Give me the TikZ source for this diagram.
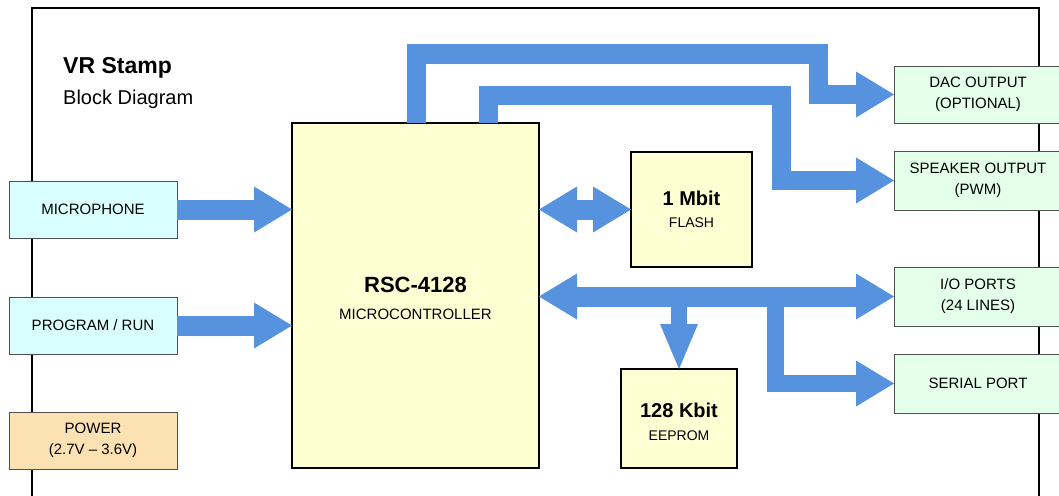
\documentclass[tikz,border=0pt]{standalone}
\usepackage{fontspec}
\setmainfont{Liberation Sans}
\usetikzlibrary{arrows.meta}
\definecolor{busblue}{RGB}{86,146,222}
\definecolor{chipfill}{RGB}{255,255,212}
\definecolor{infill}{RGB}{218,255,255}
\definecolor{outfill}{RGB}{228,255,234}
\definecolor{pwrfill}{RGB}{252,226,178}
\definecolor{boxline}{RGB}{80,80,80}
\tikzset{
  BigTri/.tip={Triangle[length=38pt,width=46pt,line width=0pt]},
  DownTri/.tip={Triangle[length=45pt,width=38pt,line width=0pt]},
  fat/.style={draw=busblue, line width=20pt, line cap=butt, line join=miter},
  chip/.style={draw=black, line width=1.6pt, fill=chipfill, inner sep=0pt, outer sep=0pt},
  sidebox/.style={draw=boxline, line width=0.9pt, inner sep=0pt, outer sep=0pt, align=center,
    minimum width=168pt, font=\fontsize{15}{21}\selectfont},
  inbox/.style={sidebox, fill=infill, minimum height=57pt},
  pwrbox/.style={sidebox, fill=pwrfill, minimum height=57pt},
  outbox/.style={sidebox, fill=outfill, minimum height=59pt},
  txt/.style={inner sep=0pt, anchor=base},
}
\begin{document}
\begin{tikzpicture}[x=1pt,y=-1pt]
\useasboundingbox (0,0) rectangle (1059,495);
\clip (0,0) rectangle (1059,495);
\fill[white] (0,0) rectangle (1059,495);
% outer frame
\draw[black, line width=1.8pt] (32,497) -- (32,8) -- (1039,8) -- (1039,497);

% title
\node[txt, anchor=base west, font=\fontsize{23}{28}\selectfont\bfseries] (title) at (63,74) {VR Stamp};
\node[txt, anchor=base west, font=\fontsize{20}{24}\selectfont] (subtitle) at (63,104) {Block Diagram};

% left boxes
\node[inbox] (mic) at (93,209.5) {MICROPHONE};
\node[inbox] (prog) at (93,325.5) {PROGRAM / RUN};
\node[pwrbox] (pwr) at (93,440.5) {POWER\\(2.7V – 3.6V)};

% chips
\node[chip, minimum width=247pt, minimum height=345pt] (mcu) at (415.5,295.5) {};
\node[chip, minimum width=121pt, minimum height=115pt] (flash) at (691.5,209.5) {};
\node[chip, minimum width=116pt, minimum height=99pt] (eeprom) at (679,418.5) {};
\node[txt, font=\fontsize{22}{26}\selectfont\bfseries] (mcut) at (415.5,292) {RSC-4128};
\node[txt, font=\fontsize{15}{18}\selectfont] (mcus) at (415.5,319) {MICROCONTROLLER};
\node[txt, font=\fontsize{20}{24}\selectfont\bfseries] (flasht) at (691.5,205) {1 Mbit};
\node[txt, font=\fontsize{14}{17}\selectfont] (flashs) at (691.5,227) {FLASH};
\node[txt, font=\fontsize{20}{24}\selectfont\bfseries] (eepromt) at (679,417) {128 Kbit};
\node[txt, font=\fontsize{14}{17}\selectfont] (eeproms) at (679,440) {EEPROM};

% right boxes
\node[outbox, minimum height=57pt] (dac) at (978,94.5) {DAC OUTPUT\\(OPTIONAL)};
\node[outbox] (spk) at (978,180.5) {SPEAKER OUTPUT\\(PWM)};
\node[outbox] (io) at (978,296.5) {I/O PORTS\\(24 LINES)};
\node[outbox] (ser) at (978,383.5) {SERIAL PORT};

% bend points
\coordinate (p1a) at (416,54);
\coordinate (p1b) at (818,54);
\coordinate (p2a) at (488,95);
\coordinate (p2b) at (781,95);
\coordinate (serbr) at (775,296.5);

% connectors
\draw[fat, -BigTri] (mic.east) -- (mic.east -| mcu.west);
\draw[fat, -BigTri] (prog.east) -- (prog.east -| mcu.west);
\draw[fat, BigTri-BigTri] (flash.west -| mcu.east) -- (flash.west);
\draw[fat, line width=17pt, -BigTri] (serbr) -- (serbr |- ser.west) -- (ser.west);
\draw[fat, line width=16pt, -DownTri] (eeprom.north |- io.west) -- (eeprom.north);
\draw[fat, BigTri-BigTri] (io.west -| mcu.east) -- (io.west);
\draw[fat, line width=19pt, -BigTri] (p1a |- mcu.north) -- (p1a) -- (p1b) -- (p1b |- dac.west) -- (dac.west);
\draw[fat, line width=19pt, -BigTri] (p2a |- mcu.north) -- (p2a) -- (p2b) -- (p2b |- spk.west) -- (spk.west);
\end{tikzpicture}
\end{document}
